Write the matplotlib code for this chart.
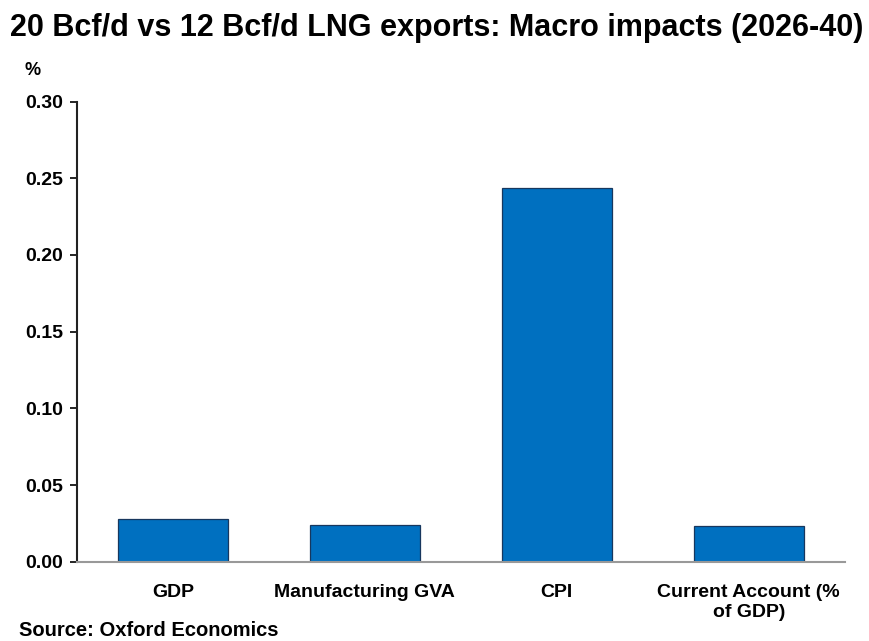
import matplotlib
matplotlib.use("Agg")
import matplotlib.pyplot as plt
import numpy as np

categories = ["GDP", "Manufacturing GVA", "CPI", "Current Account (%\nof GDP)"]
values = [0.0276, 0.0238, 0.2436, 0.0235]
yticks = [0.00, 0.05, 0.10, 0.15, 0.20, 0.25, 0.30]

plt.rcParams["font.family"] = ["Liberation Sans", "DejaVu Sans"]

fig = plt.figure(figsize=(8.69, 6.41), dpi=100)
ax = fig.add_axes([0.0886, 0.1237, 0.8834, 0.7179])

x = np.arange(len(categories))
ax.bar(x, values, width=0.575, color="#0070C0", edgecolor="#17375E", linewidth=0.9)

ax.set_xlim(-0.5, len(categories) - 0.5)
ax.set_ylim(0, 0.30)
ax.set_yticks(yticks)
ax.set_yticklabels([f"{v:.2f}" for v in yticks], fontsize=14, fontweight="bold")
ax.set_xticks(x)
ax.set_xticklabels(categories, fontsize=14, fontweight="bold", linespacing=1.2)
ax.tick_params(axis="x", length=0, pad=16)
ax.tick_params(axis="y", length=5, width=1.2, direction="out", pad=5)

for s in ["top", "right"]:
    ax.spines[s].set_visible(False)
ax.spines["left"].set_linewidth(1.5)
ax.spines["left"].set_color("#222222")
ax.spines["bottom"].set_color("#999999")
ax.spines["bottom"].set_linewidth(1.5)

fig.text(0.012, 0.957, "20 Bcf/d vs 12 Bcf/d LNG exports: Macro impacts (2026-40)",
         fontsize=22, fontweight="bold", va="center", ha="left")
fig.text(0.028, 0.890, "%", fontsize=13, fontweight="bold", va="center")
fig.text(0.022, 0.016, "Source: Oxford Economics", fontsize=14.5, fontweight="bold", va="center")

fig.savefig("out.png", dpi=100)
